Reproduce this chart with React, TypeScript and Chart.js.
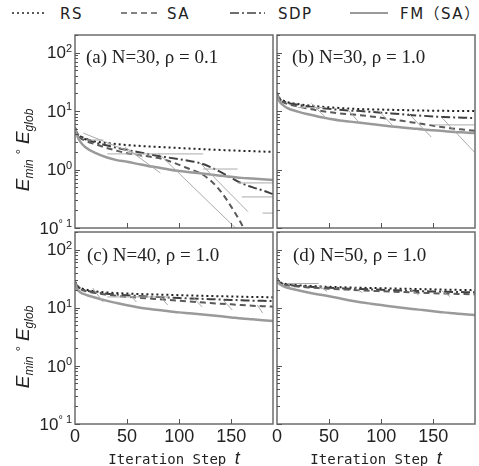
import React, { useEffect, useRef } from "react";
import { Chart, registerables } from "chart.js";
Chart.register(...registerables);

// ---------- data ----------
const steps = [0, 2, 5, 10, 20, 30, 40, 50, 60, 70, 80, 90, 100, 110, 120, 130, 140, 150, 160, 170, 180, 190];

const rsA = [5.2, 4.2, 3.7, 3.3, 3.0, 2.85, 2.72, 2.62, 2.55, 2.48, 2.43, 2.38, 2.33, 2.28, 2.24, 2.2, 2.16, 2.12, 2.09, 2.06, 2.03, 2.0];
const saA = [5.2, 4.1, 3.5, 3.1, 2.7, 2.35, 2.1, 1.9, 1.78, 1.68, 1.57, 1.4, 1.2, 1.02, 0.87, 0.65, 0.42, 0.23, 0.115, 0.05, 0.03, 0.02];
const sdpA = [5.2, 4.1, 3.7, 3.4, 2.88, 2.6, 2.35, 2.15, 2.0, 1.85, 1.7, 1.6, 1.5, 1.4, 1.29, 1.1, 0.9, 0.72, 0.58, 0.5, 0.44, 0.38];
const fmA = [5.0, 3.8, 3.0, 2.4, 1.9, 1.62, 1.45, 1.36, 1.25, 1.15, 1.08, 1.0, 0.94, 0.9, 0.86, 0.82, 0.78, 0.75, 0.72, 0.7, 0.68, 0.66];
const thinA = [
  [8, 4.2, 65, 1.64], [48, 2.43, 82, 0.87], [80, 1.9, 154, 0.1], [120, 1.29, 166, 0.19],
  [11, 3.2, 27, 3.2], [31, 1.85, 123, 1.85], [123, 1.02, 156, 1.02], [156, 0.59, 190, 0.59],
  [160, 0.34, 190, 0.34], [180, 0.18, 190, 0.18],
];

const rsB = [20.5, 17, 15.5, 14.2, 13.2, 12.5, 12.0, 11.6, 11.3, 11.0, 10.8, 10.7, 10.6, 10.5, 10.4, 10.3, 10.2, 10.15, 10.1, 10.05, 10.0, 10.0];
const saB = [20.5, 16, 14.5, 13.2, 12.0, 11.0, 10.2, 9.6, 9.1, 8.8, 8.5, 8.1, 7.7, 7.2, 6.8, 6.4, 6.0, 5.6, 5.3, 5.0, 4.8, 4.6];
const sdpB = [20.5, 16.5, 15, 13.8, 12.8, 12.0, 11.4, 10.9, 10.5, 10.2, 10.0, 9.7, 9.4, 9.1, 8.8, 8.5, 8.3, 8.1, 7.9, 7.8, 7.7, 7.6];
const fmB = [19.5, 15, 13, 11.2, 9.8, 8.8, 8.0, 7.4, 6.9, 6.6, 6.3, 6.0, 5.7, 5.45, 5.25, 5.05, 4.85, 4.7, 4.55, 4.4, 4.3, 4.2];
const thinB = [
  [33, 13.6, 46, 8.0], [67, 11.1, 78, 6.6], [97, 10.4, 112, 5.4], [126, 9.2, 148, 3.6], [158, 7.8, 190, 1.94],
  [20, 11.5, 45, 11.5], [150, 5.8, 190, 5.8],
];

const rsC = [28, 24, 22, 20.5, 19, 18.3, 17.8, 17.5, 17.2, 17.0, 16.8, 16.6, 16.4, 16.2, 16.0, 15.9, 15.7, 15.6, 15.4, 15.3, 15.2, 15.1];
const saC = [28, 23, 21, 19.3, 17.8, 16.8, 16.0, 15.4, 14.9, 14.4, 14.0, 13.6, 13.2, 12.8, 12.4, 12.0, 11.7, 11.4, 11.1, 10.8, 10.6, 10.4];
const sdpC = [28, 23.5, 21.5, 19.8, 18.3, 17.4, 16.8, 16.3, 15.9, 15.5, 15.2, 14.9, 14.6, 14.4, 14.2, 14.0, 13.8, 13.6, 13.4, 13.2, 13.1, 13.0];
const fmC = [27, 21, 18.5, 16.8, 14.8, 13.2, 12.0, 11.0, 10.2, 9.6, 9.1, 8.7, 8.3, 8.0, 7.7, 7.4, 7.1, 6.8, 6.5, 6.3, 6.1, 5.9];
const thinC = [
  [17, 21.8, 27, 12.5], [51, 17.9, 59, 12.5], [82, 15.3, 89, 11.1], [113, 15.3, 122, 10.3],
  [142, 13.6, 151, 9.1], [175, 11.1, 180, 8.1], [31, 15.3, 91, 15.3],
];

const rsD = [32, 28, 26.5, 25.3, 24.3, 23.7, 23.2, 22.8, 22.5, 22.2, 22.0, 21.8, 21.6, 21.4, 21.2, 21.0, 20.8, 20.6, 20.4, 20.3, 20.1, 20.0];
const saD = [32, 27, 25.5, 24.2, 23.1, 22.3, 21.7, 21.2, 20.7, 20.3, 19.9, 19.5, 19.2, 18.9, 18.6, 18.3, 18.0, 17.7, 17.5, 17.3, 17.1, 17.0];
const sdpD = [32, 27.5, 26, 24.8, 23.7, 23.0, 22.4, 22.0, 21.6, 21.2, 20.9, 20.6, 20.3, 20.0, 19.7, 19.5, 19.2, 19.0, 18.8, 18.6, 18.5, 18.4];
const fmD = [31, 26, 24, 22, 20, 18.3, 16.9, 15.7, 14.5, 13.3, 12.4, 11.7, 11.1, 10.5, 10.0, 9.5, 9.1, 8.7, 8.3, 8.0, 7.7, 7.5];
const thinD = [
  [40, 24, 48, 19], [75, 22, 82, 18], [128, 20.5, 136, 16.5], [158, 19.5, 166, 15.5], [10, 26, 40, 26],
];

const seriesNames = ["RS", "SA", "SDP", "FM（SA）"];
const panelTitles = ["(a) N=30, ρ = 0.1", "(b) N=30, ρ = 1.0", "(c) N=40, ρ = 1.0", "(d) N=50, ρ = 1.0"];
const xTickValues = [0, 50, 100, 150];
const xTickLabels = ["0", "50", "100", "150"];
const yDecades = [-1, 0, 1, 2];
const yExpLabels = ["° 1", "0", "1", "2"];
const xRange = [0, 190];
const yRange = [0.1, 200];

// ---------- styles ----------
const STY = {
  rs: { color: "#222222", dash: [2, 3], width: 2 },
  sa: { color: "#5a5a5a", dash: [6, 4], width: 2 },
  sdp: { color: "#404040", dash: [9, 3, 2, 3], width: 2 },
  fm: { color: "#9a9a9a", dash: [], width: 2.5 },
  thin: { color: "#ababab", width: 1 },
};

const decorPlugin = {
  id: "decor",
  afterDraw(chart: any, _args: any, opts: any) {
    const { ctx, chartArea: ca } = chart;
    const xs = chart.scales.x;
    const ys = chart.scales.y;
    ctx.save();
    ctx.strokeStyle = "#6c6c6c";
    ctx.lineWidth = 1.5;
    ctx.strokeRect(ca.left, ca.top, ca.right - ca.left, ca.bottom - ca.top);
    ctx.lineWidth = 1;
    ctx.strokeStyle = "#555";
    ctx.beginPath();
    for (const d of yDecades) {
      for (let m = 1; m <= 9; m++) {
        const v = m * Math.pow(10, d);
        if (v < yRange[0] * 0.999 || v > yRange[1]) continue;
        const py = Math.round(ys.getPixelForValue(v)) + 0.5;
        const len = m === 1 ? 5 : 3;
        ctx.moveTo(ca.left, py);
        ctx.lineTo(ca.left + len, py);
      }
    }
    for (const v of xTickValues) {
      if (v <= xRange[0]) continue;
      const px = Math.round(xs.getPixelForValue(v)) + 0.5;
      ctx.moveTo(px, ca.bottom);
      ctx.lineTo(px, ca.bottom - 5);
    }
    ctx.stroke();
    ctx.fillStyle = "#222";
    if (opts.showY) {
      yDecades.forEach((d, i) => {
        const py = ys.getPixelForValue(Math.pow(10, d));
        ctx.font = "11px 'Liberation Sans', Arial, sans-serif";
        const exp = yExpLabels[i];
        const ew = ctx.measureText(exp).width;
        const right = ca.left - 3;
        ctx.textAlign = "left";
        ctx.textBaseline = "alphabetic";
        ctx.fillText(exp, right - ew, py - 1);
        ctx.font = "17px 'Liberation Sans', Arial, sans-serif";
        ctx.textAlign = "right";
        ctx.textBaseline = "middle";
        ctx.fillText("10", right - ew, py + 1);
      });
    }
    if (opts.showX) {
      ctx.font = "18px 'Liberation Sans', Arial, sans-serif";
      ctx.textAlign = "center";
      ctx.textBaseline = "middle";
      xTickValues.forEach((v, i) => {
        const px = xs.getPixelForValue(v);
        ctx.fillText(xTickLabels[i], px, ca.bottom + 13);
      });
    }
    ctx.restore();
  },
};

type PanelCfg = {
  left: number; top: number; width: number; height: number;
  pad: { left: number; right: number; top: number; bottom: number };
  showX: boolean; showY: boolean;
  rs: number[]; sa: number[]; sdp: number[]; fm: number[]; thin: number[][];
};

const panels: PanelCfg[] = [
  { left: 0, top: 28, width: 275, height: 212, pad: { left: 75, right: 2, top: 7, bottom: 12 }, showX: false, showY: true, rs: rsA, sa: saA, sdp: sdpA, fm: fmA, thin: thinA },
  { left: 265, top: 28, width: 214, height: 212, pad: { left: 12, right: 4, top: 7, bottom: 12 }, showX: false, showY: false, rs: rsB, sa: saB, sdp: sdpB, fm: fmB, thin: thinB },
  { left: 0, top: 224, width: 275, height: 242, pad: { left: 75, right: 2, top: 8, bottom: 42 }, showX: true, showY: true, rs: rsC, sa: saC, sdp: sdpC, fm: fmC, thin: thinC },
  { left: 265, top: 224, width: 214, height: 242, pad: { left: 12, right: 4, top: 8, bottom: 42 }, showX: true, showY: false, rs: rsD, sa: saD, sdp: sdpD, fm: fmD, thin: thinD },
];

function pts(vals: number[]) {
  return steps.map((t, i) => ({ x: t, y: vals[i] }));
}

function Panel({ cfg }: { cfg: PanelCfg }) {
  const ref = useRef<HTMLCanvasElement>(null);
  useEffect(() => {
    if (!ref.current) return;
    const main = (label: string, vals: number[], s: any) => ({
      label,
      data: pts(vals),
      borderColor: s.color,
      borderWidth: s.width,
      borderDash: s.dash,
      pointRadius: 0,
      fill: false,
      cubicInterpolationMode: "monotone" as const,
    });
    const thinSets = cfg.thin.map((seg) => ({
      label: "",
      data: [{ x: seg[0], y: seg[1] }, { x: seg[2], y: seg[3] }],
      borderColor: STY.thin.color,
      borderWidth: STY.thin.width,
      pointRadius: 0,
      fill: false,
    }));
    const chart = new Chart(ref.current, {
      type: "line",
      data: {
        datasets: [
          ...thinSets,
          main(seriesNames[3], cfg.fm, STY.fm),
          main(seriesNames[1], cfg.sa, STY.sa),
          main(seriesNames[2], cfg.sdp, STY.sdp),
          main(seriesNames[0], cfg.rs, STY.rs),
        ],
      },
      options: {
        animation: false,
        responsive: false,
        maintainAspectRatio: false,
        layout: { padding: cfg.pad },
        scales: {
          x: { type: "linear", min: xRange[0], max: xRange[1], display: false },
          y: { type: "logarithmic", min: yRange[0], max: yRange[1], display: false },
        },
        plugins: {
          legend: { display: false },
          tooltip: { enabled: false },
          decor: { showX: cfg.showX, showY: cfg.showY },
        } as any,
      },
      plugins: [decorPlugin],
    });
    return () => chart.destroy();
  }, [cfg]);
  return (
    <canvas
      ref={ref}
      width={cfg.width}
      height={cfg.height}
      style={{ position: "absolute", left: cfg.left, top: cfg.top, width: cfg.width, height: cfg.height }}
    />
  );
}

const legendFont = "'DejaVu Sans', 'Noto Sans CJK JP', sans-serif";

function Legend() {
  const items = [
    { x1: 12, x2: 47, tx: 60, s: STY.rs },
    { x1: 121, x2: 157, tx: 167, s: STY.sa },
    { x1: 230, x2: 265, tx: 278, s: STY.sdp },
    { x1: 350, x2: 388, tx: 400, s: STY.fm },
  ];
  return (
    <svg width={479} height={28} style={{ position: "absolute", left: 0, top: 0 }}>
      {items.map((it, i) => (
        <g key={i}>
          <line x1={it.x1} y1={13} x2={it.x2} y2={13} stroke={it.s.color} strokeWidth={it.s.width === 2.5 ? 2 : 1.5}
            strokeDasharray={it.s.dash.length ? it.s.dash.join(" ") : undefined} />
          <text x={it.tx} y={18.5} fontFamily={legendFont} fontSize={15} fill="#222" letterSpacing={1.5}>{seriesNames[i]}</text>
        </g>
      ))}
    </svg>
  );
}

function YTitle({ cy }: { cy: number }) {
  return (
    <div style={{
      position: "absolute", left: 26, top: cy, transform: "translate(-50%, -50%) rotate(-90deg)",
      whiteSpace: "nowrap", fontFamily: "'Liberation Sans', Arial, sans-serif", fontSize: 19, color: "#222", lineHeight: "20px",
    }}>
      <i>E</i><sub style={{ fontSize: 12, fontStyle: "italic" }}>min</sub>
      <span style={{ fontSize: 13, position: "relative", top: -4, margin: "0 5px" }}>°</span>
      <i>E</i><sub style={{ fontSize: 12, fontStyle: "italic" }}>glob</sub>
    </div>
  );
}

function XTitle({ cx }: { cx: number }) {
  return (
    <div style={{
      position: "absolute", left: cx, top: 458, transform: "translate(-50%, -50%)", whiteSpace: "nowrap",
      fontFamily: "'DejaVu Sans Mono', monospace", fontSize: 14, color: "#222",
    }}>
      Iteration Step <i style={{ fontFamily: "'Liberation Sans', Arial, sans-serif", fontSize: 18 }}>t</i>
    </div>
  );
}

const titlePos = [
  { x: 86, y: 57 }, { x: 292, y: 57 }, { x: 87, y: 255 }, { x: 293, y: 255 },
];

export default function App() {
  return (
    <div style={{ position: "absolute", left: 0, top: 0, width: 479, height: 466, background: "#fff", overflow: "hidden" }}>
      <Legend />
      {panels.map((p, i) => <Panel key={i} cfg={p} />)}
      {panelTitles.map((t, i) => (
        <div key={i} style={{
          position: "absolute", left: titlePos[i].x, top: titlePos[i].y, transform: "translateY(-50%)",
          fontFamily: "'Liberation Serif', 'Times New Roman', serif", fontSize: 19, color: "#222", whiteSpace: "nowrap",
        }}>{t}</div>
      ))}
      <YTitle cy={150} />
      <YTitle cy={347} />
      <XTitle cx={174} />
      <XTitle cx={376} />
    </div>
  );
}
